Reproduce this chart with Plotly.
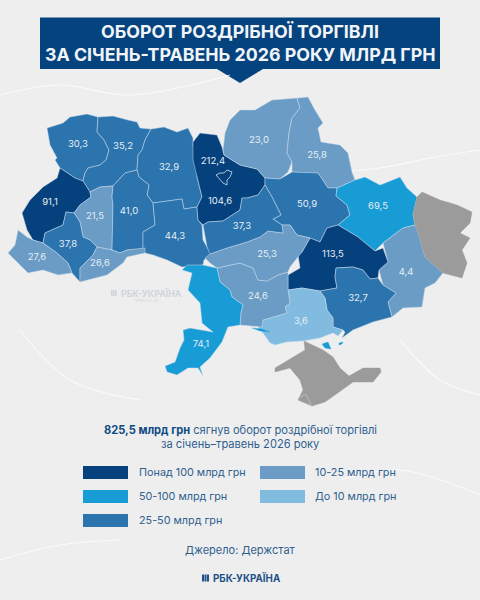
import plotly.graph_objects as go

# ---------- data ----------
regions = ["Волинська", "Рівненська", "Житомирська", "Львівська", "Тернопільська", "Хмельницька",
           "Вінницька", "Івано-Франківська", "Закарпатська", "Чернівецька", "Київська", "Чернігівська",
           "Сумська", "Полтавська", "Харківська", "Донецька", "Дніпропетровська", "Запорізька",
           "Херсонська", "Миколаївська", "Одеська", "Кіровоградська", "Черкаська", "м. Київ"]
values = [30.3, 35.2, 32.9, 91.1, 21.5, 41.0, 44.3, 37.8, 27.6, 26.6, 104.6, 23.0,
          25.8, 50.9, 69.5, 4.4, 113.5, 32.7, 3.6, 24.6, 74.1, 25.3, 37.3, 212.4]
classes = [2, 2, 2, 0, 3, 2, 2, 2, 3, 3, 0, 3, 3, 2, 1, 3, 0, 2, 4, 3, 1, 3, 2, 0]
legend_labels = ["Понад 100 млрд грн", "50-100 млрд грн", "25-50 млрд грн", "10-25 млрд грн", "До 10 млрд грн"]
palette = ["#05417D", "#179CD6", "#2C74AE", "#6A9CC5", "#81BCE0"]
GREY = "#9B9B9B"
BG = "#EEEEEE"
NAVY = "#05437F"
TXT = "#2F5F8F"

# ---------- map geometry (outline of each oblast) ----------
geo = {
 "Волинська": [(47,128),(63,123),(70,117),(87,114),(98,117),(97,132),(104,140),(109,150),(106,160),(100,165),(88,168),(85,173),(83,181),(75,178),(60,168),(55,160),(57,158),(50,145)],
 "Рівненська": [(98,117),(113,116),(128,120),(137,122),(140,128),(151,129),(145,140),(142,150),(138,155),(137,170),(125,173),(113,186),(100,187),(90,192),(83,181),(85,173),(88,168),(100,165),(106,160),(109,150),(104,140),(97,132)],
 "Житомирська": [(151,129),(164,127),(177,132),(188,128),(193,138),(193,145),(197,160),(197,177),(202,197),(197,207),(184,209),(182,199),(153,203),(147,195),(149,185),(139,177),(137,170),(138,155),(142,150),(145,140)],
 "Львівська": [(60,168),(75,178),(83,181),(90,192),(91,197),(80,205),(74,213),(66,212),(63,225),(45,233),(43,243),(33,240),(27,230),(22,213),(30,200),(43,187),(57,178)],
 "Тернопільська": [(90,192),(100,187),(113,186),(112,197),(113,205),(112,250),(97,247),(90,240),(83,237),(80,222),(74,213),(80,205),(91,197)],
 "Хмельницька": [(113,186),(125,173),(137,170),(139,177),(149,185),(147,195),(153,203),(155,225),(143,232),(143,249),(127,250),(120,253),(112,250),(113,205),(112,197)],
 "Вінницька": [(153,203),(182,199),(184,209),(197,207),(198,220),(202,225),(203,240),(211,254),(204,260),(203,265),(182,267),(167,260),(153,255),(145,253),(143,249),(143,232),(155,225)],
 "Івано-Франківська": [(66,212),(74,213),(80,222),(83,237),(90,240),(97,247),(93,255),(80,268),(80,282),(72,273),(68,263),(57,253),(43,243),(45,233),(63,225)],
 "Закарпатська": [(18,230),(27,237),(33,240),(43,243),(57,253),(68,263),(72,273),(58,275),(43,270),(28,273),(20,265),(8,253),(15,245)],
 "Чернівецька": [(97,247),(112,250),(120,253),(127,250),(145,248),(145,253),(127,257),(123,263),(107,275),(80,282),(80,268),(93,255)],
 "Київська": [(193,142),(200,133),(217,135),(222,147),(224,155),(240,165),(257,169),(265,178),(265,185),(258,195),(247,198),(242,198),(240,210),(223,221),(208,222),(203,225),(198,220),(197,207),(202,197),(197,177),(193,160)],
 "Чернігівська": [(240,110),(255,110),(272,100),(297,98),(300,108),(292,118),(289,133),(287,153),(292,162),(288,172),(280,179),(265,178),(257,169),(240,165),(224,155),(223,150),(225,133),(230,120)],
 "Сумська": [(297,98),(308,97),(315,110),(323,123),(318,128),(321,142),(340,145),(348,153),(352,172),(355,180),(337,188),(328,188),(318,173),(308,173),(292,172),(292,162),(287,153),(289,133),(292,118),(300,108)],
 "Полтавська": [(265,178),(280,179),(292,172),(308,173),(318,173),(328,188),(337,188),(336,196),(347,205),(350,215),(338,225),(327,228),(320,242),(310,238),(297,235),(290,225),(282,225),(273,219),(281,215),(272,197),(265,185)],
 "Харківська": [(337,188),(355,180),(365,177),(380,185),(400,177),(407,188),(417,197),(413,215),(415,225),(403,228),(383,243),(375,251),(358,237),(338,225),(350,215),(347,205),(336,196)],
 "Донецька": [(383,243),(403,228),(415,225),(418,232),(425,257),(443,273),(435,283),(425,288),(422,307),(403,308),(392,317),(388,302),(396,293),(383,285),(379,270),(388,262)],
 "Дніпропетровська": [(320,242),(327,228),(338,225),(358,237),(375,251),(383,248),(388,262),(379,270),(378,278),(370,279),(363,270),(353,267),(336,268),(335,277),(337,288),(320,291),(302,288),(288,290),(288,275),(300,268),(298,255),(302,252),(310,238)],
 "Запорізька": [(336,268),(353,267),(363,270),(370,279),(378,278),(383,285),(396,293),(388,302),(392,317),(373,322),(353,330),(342,338),(345,332),(343,330),(333,327),(333,318),(327,310),(325,298),(320,291),(337,288),(335,277)],
 "Херсонська": [(288,290),(302,288),(320,291),(325,298),(327,310),(333,318),(333,327),(343,330),(338,336),(333,333),(320,338),(303,341),(287,342),(275,345),(270,343),(263,333),(258,328),(263,320),(287,313),(285,307),(290,303)],
 "Миколаївська": [(217,268),(230,265),(240,263),(253,268),(258,280),(267,281),(278,275),(288,272),(288,290),(290,303),(285,307),(287,313),(263,320),(262,327),(240,325),(241,312),(243,305),(232,297),(230,290),(220,282)],
 "Одеська": [(182,270),(187,265),(203,265),(217,268),(220,282),(230,290),(232,297),(243,305),(241,312),(240,325),(228,327),(222,342),(210,358),(200,367),(203,376),(198,368),(188,368),(177,375),(167,372),(165,366),(175,362),(180,348),(184,340),(183,330),(190,328),(200,330),(213,332),(208,328),(202,323),(200,303),(188,290),(192,273)],
 "Кіровоградська": [(205,258),(210,254),(227,248),(247,242),(260,237),(268,231),(283,233),(282,225),(290,225),(297,235),(310,238),(302,252),(290,267),(288,272),(278,275),(267,281),(258,280),(253,268),(240,263),(230,265),(217,268),(210,263)],
 "Черкаська": [(203,225),(208,222),(223,221),(240,210),(242,198),(247,198),(258,195),(265,185),(272,197),(281,215),(273,219),(282,225),(283,233),(268,231),(260,237),(247,242),(227,248),(210,254),(207,247)],
 "м. Київ": [(216,175),(220,173),(224,173),(227,170),(232,172),(230,177),(227,180),(227,185),(223,183),(218,178)],
}
grey_geo = {
 "Луганська": [(422,192),(440,200),(457,205),(472,212),(470,223),(460,233),(470,238),(462,250),(467,263),(462,278),(443,273),(425,257),(418,232),(415,225),(413,215),(417,197)],
 "Крим": [(304,341),(308,343),(323,350),(333,357),(340,368),(349,376),(363,368),(380,368),(381,372),(373,382),(353,382),(342,390),(325,402),(312,406),(298,400),(303,390),(300,380),(290,368),(275,372),(275,368),(288,360),(305,350)],
}
islets = [
 [(322,344),(328,342),(331,349),(325,348)],
 [(339,343),(343,342),(342,344),(339,345)],
 [(252,328),(262,329),(270,332),(260,331)],
]
label_xy = {"Волинська":(78,145),"Рівненська":(123,147),"Житомирська":(169,168),"Львівська":(50,203),
 "Тернопільська":(95,217),"Хмельницька":(129,212),"Вінницька":(175,237),"Івано-Франківська":(68,245),
 "Закарпатська":(37,258),"Чернівецька":(100,264),"Київська":(220,202),"Чернігівська":(259,141),
 "Сумська":(317,156),"Полтавська":(307,205),"Харківська":(378,207),"Донецька":(406,273),
 "Дніпропетровська":(333,255),"Запорізька":(358,299),"Херсонська":(301,322),"Миколаївська":(258,297),
 "Одеська":(201,345),"Кіровоградська":(267,255),"Черкаська":(242,227),"м. Київ":(213,162)}

# faint paper creases in the background
creases = [
 [(330,172),(380,168),(430,158),(480,150)],
 [(0,560),(60,545),(120,540)],
 [(340,480),(400,470),(480,495)],
 [(0,95),(60,85),(130,95),(230,75)],
 [(400,340),(440,380),(480,395)],
 [(20,330),(70,380),(140,400)],
]

EDGE = "rgba(205,222,238,0.8)"
fig = go.Figure()

def poly(pts, fill, line=EDGE, width=0.6):
    xs = [p[0] for p in pts] + [pts[0][0]]
    ys = [p[1] for p in pts] + [pts[0][1]]
    fig.add_trace(go.Scatter(x=xs, y=ys, mode="lines", fill="toself", fillcolor=fill,
                             line=dict(color=line, width=width), hoverinfo="skip", showlegend=False))

for pts in creases:
    fig.add_trace(go.Scatter(x=[p[0] for p in pts], y=[p[1] for p in pts], mode="lines",
                             line=dict(color="rgba(255,255,255,0.7)", width=1.2, shape="spline"),
                             hoverinfo="skip", showlegend=False))

for name, cls in zip(regions, classes):
    if name != "м. Київ":
        poly(geo[name], palette[cls])
poly(geo["м. Київ"], palette[0], line="rgba(225,235,245,0.95)", width=0.8)
for pts in grey_geo.values():
    poly(pts, GREY, line=GREY, width=0.4)
for pts in islets:
    poly(pts, palette[1], line=palette[1], width=0.3)
fig.add_trace(go.Scatter(x=[300, 306, 311], y=[397, 394, 405], mode="lines",
                         line=dict(color="#C9C9C9", width=0.7), hoverinfo="skip", showlegend=False))

fig.add_trace(go.Scatter(
    x=[label_xy[r][0] for r in regions], y=[label_xy[r][1] for r in regions],
    text=[f"{v:.1f}".replace(".", ",") for v in values],
    mode="text", textposition="middle center",
    textfont=dict(family="Inter", size=9.5, color="#E6EEF5"), hoverinfo="skip", showlegend=False))

# ---------- header / legend furniture ----------
shapes = [
    dict(type="rect", x0=40, x1=440, y0=17.5, y1=69, fillcolor=NAVY, line_width=0, layer="below"),
    dict(type="path", path="M 217 69 L 263 69 L 240 83 Z", fillcolor=NAVY, line_width=0, layer="below"),
]
swatches = [(83, 466), (83, 490), (83, 514), (260, 466), (260, 490)]
for i, (sx, sy) in enumerate(swatches):
    shapes.append(dict(type="rect", x0=sx, x1=sx + 45, y0=sy, y1=sy + 13, fillcolor=palette[i], line_width=0))

anns = []
def note(x, y, text, size, color=TXT, anchor="center", family="Inter"):
    anns.append(dict(x=x, y=y, xref="x", yref="y", text=text, showarrow=False, xanchor=anchor, yanchor="middle",
                     font=dict(family=family, size=size, color=color)))

note(240, 31, "<b>ОБОРОТ РОЗДРІБНОЇ ТОРГІВЛІ</b>", 17.8, "#F2F5F8")
note(240, 54.5, "<b>ЗА СІЧЕНЬ-ТРАВЕНЬ 2026 РОКУ МЛРД ГРН</b>", 17.8, "#F2F5F8")
note(240, 430, "<b style='color:#0F4A85'>825,5 млрд грн</b> сягнув оборот роздрібної торгівлі", 11.1)
note(240, 444, "за січень–травень 2026 року", 11.1)
for i, (sx, sy) in enumerate(swatches):
    note(137 if sx < 200 else 313, sy + 6.5, legend_labels[i], 10.8, anchor="left")
note(240, 550, "Джерело: Держстат", 11)
note(211, 578, "<b>РБК-УКРАЇНА</b>", 9.8, "#1F5288", anchor="left")
note(119, 293, "<b>РБК-УКРАЇНА</b>", 8.8, "#CFD5DC", anchor="left")
note(146, 300, "www.rbc.ua", 4, "#D5DADF")
for k in range(3):
    shapes.append(dict(type="rect", x0=202 + 2.5 * k, x1=204 + 2.5 * k, y0=574.5, y1=581.5,
                       fillcolor="#1F5288", line_width=0))
    shapes.append(dict(type="rect", x0=111 + 2 * k, x1=112.6 + 2 * k, y0=290, y1=296,
                       fillcolor="#CFD5DC", line_width=0, layer="below"))

fig.update_layout(
    width=480, height=600, margin=dict(l=0, r=0, t=0, b=0),
    paper_bgcolor=BG, plot_bgcolor=BG, showlegend=False,
    xaxis=dict(range=[0, 480], visible=False, fixedrange=True),
    yaxis=dict(range=[600, 0], visible=False, fixedrange=True),
    shapes=shapes, annotations=anns,
)
fig.write_html("out.html", config={"displayModeBar": False},
               post_script="document.body.style.margin='0';document.body.style.background='#EEEEEE';")
